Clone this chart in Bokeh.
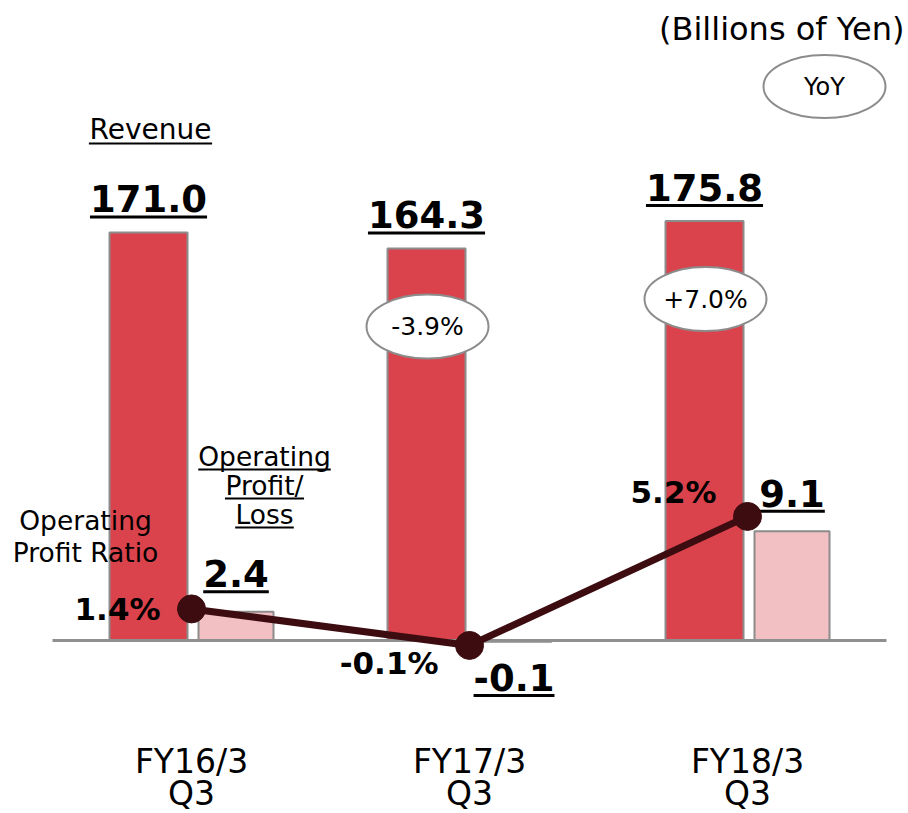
import numpy as np
from bokeh.plotting import figure
from bokeh.models import Range1d
from bokeh.core.properties import value
from bokeh.embed import file_html
from bokeh.resources import INLINE

# ---------------- data ----------------
categories = ["FY16/3\nQ3", "FY17/3\nQ3", "FY18/3\nQ3"]
revenue = [171.0, 164.3, 175.8]
operating_profit = [2.4, -0.1, 9.1]
profit_ratio = [1.4, -0.1, 5.2]
revenue_yoy = ["", "-3.9%", "+7.0%"]
unit_label = "(Billions of Yen)"
yoy_label = "YoY"
revenue_name = "Revenue"
profit_name = ["Operating", "Profit/", "Loss"]
ratio_name = ["Operating", "Profit Ratio"]

# ---------------- style ----------------
FONT = value("DejaVu Sans")
RED = "#db434c"
PINK = "#f2bfc2"
EDGE = "#8c8c8c"
LINE = "#3d0c10"
W, H = 908, 813

REG = {' ': .318, '.': .318, '-': .361, '%': .950, '+': .838, '/': .337, '(': .390, ')': .390,
       'R': .695, 'e': .615, 'v': .592, 'n': .634, 'u': .634, 'O': .787, 'p': .635, 'r': .411,
       'a': .613, 't': .392, 'i': .278, 'g': .635, 'P': .603, 'o': .612, 'f': .352, 'L': .557,
       's': .521, 'l': .278}
BOLD = {'.': .381, '-': .414, '%': 1.002}


def text_w(s, size, bold=False):
    tot = 0.0
    for c in s:
        if c.isdigit():
            tot += .696 if bold else .636
        else:
            tot += (BOLD if bold else REG).get(c, .62)
    return tot * size


x_range = Range1d(-0.6871, 2.5791)
rev_range = Range1d(-72.51, 268.23)
prof_range = Range1d(-14.417, 53.333)
ratio_range = Range1d(-7.005, 26.396)

p = figure(width=W, height=H, output_backend="svg", toolbar_location=None,
           x_range=x_range, y_range=rev_range,
           x_axis_location=None, y_axis_location=None, min_border=0,
           outline_line_color=None, background_fill_color="white")
p.grid.visible = False
p.extra_y_ranges = {"profit": prof_range, "ratio": ratio_range, "px": Range1d(H, 0)}
p.extra_x_ranges = {"px": Range1d(0, W)}

XPPU = W / (x_range.end - x_range.start)
REV_PPU = H / (rev_range.end - rev_range.start)
PROF_PPU = H / (prof_range.end - prof_range.start)
RATIO_PPU = H / (ratio_range.end - ratio_range.start)

idx = np.arange(len(categories), dtype=float)
REV_DX = -43 / XPPU
PROF_DX = 44.5 / XPPU

# bars
p.vbar(x=idx + REV_DX, width=78 / XPPU, top=revenue, bottom=0,
       fill_color=RED, line_color=EDGE, line_width=2)
p.vbar(x=idx + PROF_DX, width=75 / XPPU, top=operating_profit, bottom=0,
       fill_color=PINK, line_color=EDGE, line_width=2, y_range_name="profit")

# baseline
p.segment(x0=[-0.5], x1=[len(categories) - 0.5], y0=[0], y1=[0],
          line_color="#8f8f8f", line_width=3)

# YoY ellipses on revenue bars
for i, t in enumerate(revenue_yoy):
    if not t:
        continue
    yc = revenue[i] - 78 / REV_PPU
    p.ellipse(x=[i + REV_DX + 1 / XPPU], y=[yc], width=122 / XPPU, height=64 / REV_PPU,
              fill_color="white", line_color=EDGE, line_width=2)
    p.text(x=[i + REV_DX + 1 / XPPU], y=[yc], text=[t], text_font=FONT, text_font_size="25px",
           text_align="center", text_baseline="middle", text_color="black")

# revenue labels
rev_txt = [f"{v:.1f}" for v in revenue]
p.text(x=idx + REV_DX, y=[v + 33.5 / REV_PPU for v in revenue], text=rev_txt,
       text_font=FONT, text_font_style="bold", text_font_size="37px",
       text_align="center", text_baseline="middle", text_color="black")
rw = [text_w(t, 37, True) / XPPU for t in rev_txt]
p.segment(x0=[i + REV_DX - w / 2 for i, w in zip(idx, rw)], x1=[i + REV_DX + w / 2 for i, w in zip(idx, rw)],
          y0=[v + 15.5 / REV_PPU for v in revenue], y1=[v + 15.5 / REV_PPU for v in revenue],
          line_color="black", line_width=3)

# profit labels
prof_txt = [f"{v:.1f}" for v in operating_profit]
prof_mid = [(v + 38 / PROF_PPU) if v >= 0 else (-37.5 / PROF_PPU) for v in operating_profit]
prof_ul = [(v + 20 / PROF_PPU) if v >= 0 else (-55 / PROF_PPU) for v in operating_profit]
p.text(x=idx + PROF_DX, y=prof_mid, text=prof_txt, y_range_name="profit",
       text_font=FONT, text_font_style="bold", text_font_size="37px",
       text_align="center", text_baseline="middle", text_color="black")
pw = [text_w(t, 37, True) / XPPU for t in prof_txt]
p.segment(x0=[i + PROF_DX - w / 2 for i, w in zip(idx, pw)], x1=[i + PROF_DX + w / 2 for i, w in zip(idx, pw)],
          y0=prof_ul, y1=prof_ul, line_color="black", line_width=3, y_range_name="profit")

# ratio line
p.line(x=idx, y=profit_ratio, y_range_name="ratio", line_color=LINE, line_width=7)
p.scatter(x=idx, y=profit_ratio, y_range_name="ratio", size=28, marker="circle",
          fill_color=LINE, line_color=LINE)
RATIO_DY = [0, 18, -24]  # label vertical nudges in px (down positive)
p.text(x=idx - 31 / XPPU, y=[r - d / RATIO_PPU for r, d in zip(profit_ratio, RATIO_DY)],
       text=[f"{r:.1f}%" for r in profit_ratio], y_range_name="ratio",
       text_font=FONT, text_font_style="bold", text_font_size="31px",
       text_align="right", text_baseline="middle", text_color="black")

# category labels
p.text(x=idx, y=[761] * 3, y_range_name="px", text=[c.split("\n")[0] for c in categories],
       text_font=FONT, text_font_size="33px", text_align="center", text_baseline="middle",
       text_color="black")
p.text(x=idx, y=[793] * 3, y_range_name="px", text=[c.split("\n")[1] for c in categories],
       text_font=FONT, text_font_size="33px", text_align="center", text_baseline="middle",
       text_color="black")

# unit label and YoY legend
p.text(x=[904], y=[28], x_range_name="px", y_range_name="px", text=[unit_label],
       text_font=FONT, text_font_size="32px", text_align="right", text_baseline="middle",
       text_color="black")
p.ellipse(x=[824], y=[86], x_range_name="px", y_range_name="px", width=122, height=63,
          fill_color="white", line_color=EDGE, line_width=2)
p.text(x=[824], y=[86], x_range_name="px", y_range_name="px", text=[yoy_label],
       text_font=FONT, text_font_size="24px", text_align="center", text_baseline="middle",
       text_color="black")

# series names
p.text(x=[150], y=[129], x_range_name="px", y_range_name="px", text=[revenue_name],
       text_font=FONT, text_font_size="28px", text_align="center", text_baseline="middle",
       text_color="black")
w = text_w(revenue_name, 28)
p.segment(x0=[150 - w / 2], x1=[150 + w / 2], y0=[143], y1=[143], x_range_name="px",
          y_range_name="px", line_color="black", line_width=2)

pn_mid = [456, 485, 514]
p.text(x=[264] * 3, y=pn_mid, x_range_name="px", y_range_name="px", text=profit_name,
       text_font=FONT, text_font_size="26.5px", text_align="center", text_baseline="middle",
       text_color="black")
pn_w = [text_w(t, 26.5) for t in profit_name]
p.segment(x0=[264 - w / 2 for w in pn_w], x1=[264 + w / 2 for w in pn_w],
          y0=[m + 13 for m in pn_mid], y1=[m + 13 for m in pn_mid],
          x_range_name="px", y_range_name="px", line_color="black", line_width=2)

p.text(x=[85] * 2, y=[520, 552], x_range_name="px", y_range_name="px", text=ratio_name,
       text_font=FONT, text_font_size="26.5px", text_align="center", text_baseline="middle",
       text_color="black")

open("out.html", "w").write(file_html(p, INLINE))
